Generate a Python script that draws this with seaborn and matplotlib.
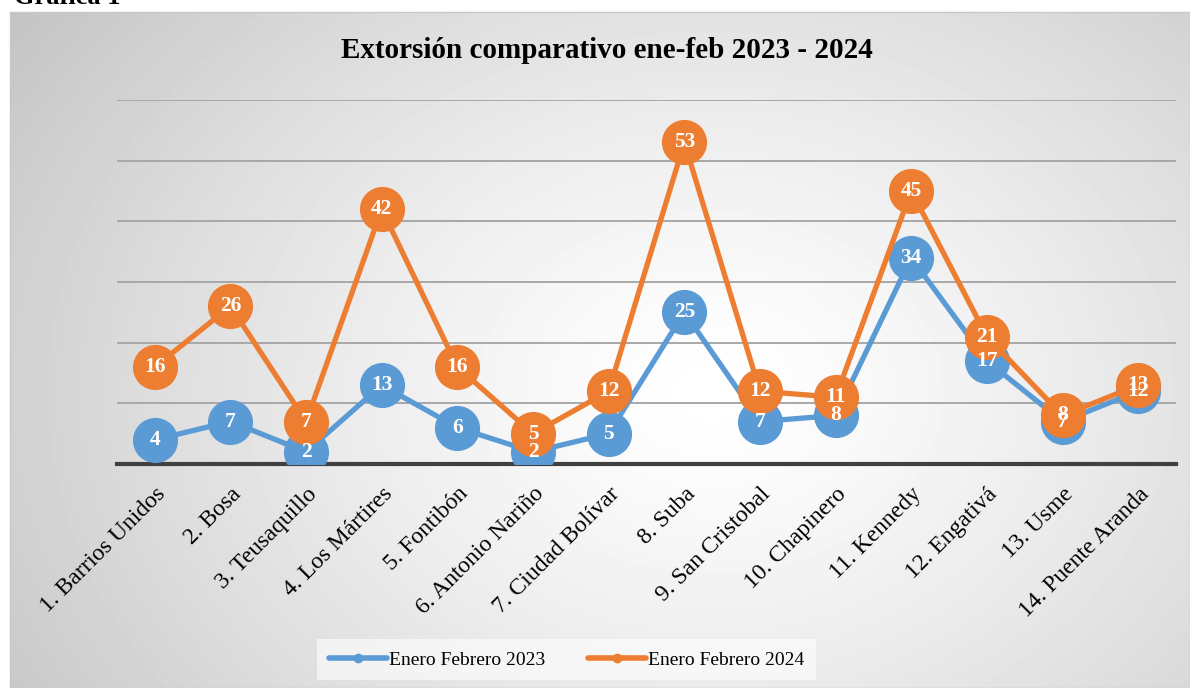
import numpy as np
import pandas as pd
import matplotlib
matplotlib.use('Agg')
import matplotlib.pyplot as plt
from matplotlib.lines import Line2D
import seaborn as sns

# Datos
localidades = ['1. Barrios Unidos', '2. Bosa', '3. Teusaquillo', '4. Los Mártires', '5. Fontibón',
               '6. Antonio Nariño', '7. Ciudad Bolívar', '8. Suba', '9. San Cristobal', '10. Chapinero',
               '11. Kennedy', '12. Engativá', '13. Usme', '14. Puente Aranda']
ene_feb_2023 = [4, 7, 2, 13, 6, 2, 5, 25, 7, 8, 34, 17, 7, 12]
ene_feb_2024 = [16, 26, 7, 42, 16, 5, 12, 53, 12, 11, 45, 21, 8, 13]
series = ['Enero Febrero 2023', 'Enero Febrero 2024']
colores = ['#5b9bd5', '#ed7d31']

df = pd.DataFrame({
    'localidad': localidades * 2,
    'valor': ene_feb_2023 + ene_feb_2024,
    'serie': [series[0]] * len(localidades) + [series[1]] * len(localidades),
})

sns.set_theme(style='white')
plt.rcParams['font.family'] = ['Liberation Serif', 'DejaVu Serif']
plt.rcParams['text.color'] = 'black'
plt.rcParams['xtick.color'] = 'black'

fig = plt.figure(figsize=(11.9, 6.88), dpi=100)

# Fondo con degradado radial
bg = fig.add_axes([10 / 1190, 0, 1 - 10 / 1190, 1 - 12 / 688], zorder=-5)
yy, xx = np.mgrid[0:676, 0:1180]
d = np.sqrt(((xx - 700) / 900) ** 2 + ((yy - 380) / 700) ** 2)
grad = 1 - 0.25 * np.clip(d, 0, 1) ** 1.3
bg.imshow(grad, cmap='gray', vmin=0, vmax=1, aspect='auto', interpolation='bilinear')
bg.set_xticks([])
bg.set_yticks([])
for s in bg.spines.values():
    s.set_color('#c8c8c8')
    s.set_linewidth(1)

ax = fig.add_axes([117 / 1190, 1 - 464 / 688, (1176 - 117) / 1190, 364 / 688])
ax.patch.set_alpha(0)

sns.lineplot(data=df, x='localidad', y='valor', hue='serie', palette=colores, sort=False,
             marker='o', markersize=32.5, markeredgewidth=0, linewidth=3.8, legend=False, ax=ax)

# Etiquetas de datos
for vals in [ene_feb_2023, ene_feb_2024]:
    for i, v in enumerate(vals):
        ax.text(i, v, str(v), color='white', fontsize=15.5, fontweight='bold',
                ha='center', va='center', zorder=10)

ax.set_ylim(0, 60)
ax.set_xlim(-0.5, len(localidades) - 0.5)
ax.set_yticks([10, 20, 30, 40, 50, 60])
ax.yaxis.grid(True, color='#a8a8a8', linewidth=1.4)
ax.set_axisbelow(True)
ax.tick_params(axis='y', left=False, labelleft=False)
ax.tick_params(axis='x', length=0, pad=14)
ax.set_xlabel('')
ax.set_ylabel('')
for s in ['top', 'right', 'left']:
    ax.spines[s].set_visible(False)
ax.spines['bottom'].set_color('#404040')
ax.spines['bottom'].set_linewidth(3)
ax.spines['bottom'].set_zorder(1)

ax.set_xticks(range(len(localidades)))
ax.set_xticklabels(localidades, rotation=45, ha='right', rotation_mode='anchor', fontsize=17)

fig.text(0.51, 0.927, 'Extorsión comparativo ene-feb 2023 - 2024', ha='center', va='center',
         fontsize=21, fontweight='bold')
fig.text(0.012, 1 - 3.5 / 688, 'Gráfica 1', ha='left', va='baseline', fontsize=19, fontweight='bold')

handles = [Line2D([], [], color=c, linewidth=4, marker='o', markersize=6) for c in colores]
leg = fig.legend(handles, series, loc='center', bbox_to_anchor=(0.476, 0.041), ncol=2,
                 fontsize=14, frameon=True, fancybox=False, handlelength=3.0,
                 handletextpad=0.1, columnspacing=2.2, borderpad=0.6)
leg.get_frame().set_facecolor('white')
leg.get_frame().set_alpha(0.6)
leg.get_frame().set_edgecolor('none')

fig.savefig('out.png', dpi=100)
